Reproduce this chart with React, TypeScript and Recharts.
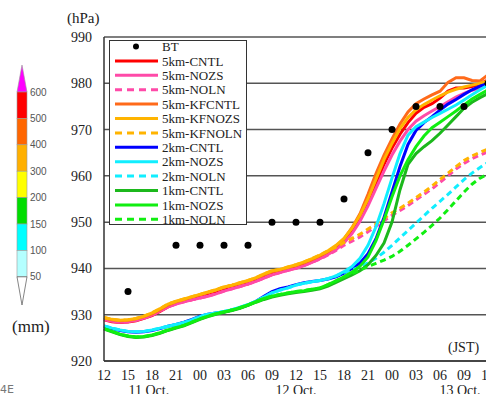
import { LineChart, Line, XAxis, YAxis, CartesianGrid, Legend } from 'recharts';

// hours after 11 Oct. 12 JST
const HOURS = [
  0, 1, 2, 3, 4, 5, 6, 7, 8, 9, 10, 11, 12, 13, 14, 15, 16, 17, 18, 19, 20, 21, 22, 23, 24,
  25, 26, 27, 28, 29, 30, 31, 32, 33, 34, 35, 36, 37, 38, 39, 40, 41, 42, 43, 44, 45, 46, 47, 48,
];
const X_TICKS = [0, 3, 6, 9, 12, 15, 18, 21, 24, 27, 30, 33, 36, 39, 42, 45, 48];
const X_LABELS = ['12', '15', '18', '21', '00', '03', '06', '09', '12', '15', '18', '21', '00', '03', '06', '09', '12'];
const DATE_TICKS = [5.6, 24, 44.5];
const DATE_LABELS = ['11 Oct.', '12 Oct.', '13 Oct.'];
const Y_TICKS = [920, 930, 940, 950, 960, 970, 980, 990];

// best track
const BT_HOURS = [3, 9, 12, 15, 18, 21, 24, 27, 30, 33, 36, 39, 42, 45, 48];
const BT_VALUES = [935, 945, 945, 945, 945, 950, 950, 950, 955, 965, 970, 975, 975, 975, 980];

// central pressure (hPa)
const CNTL_5KM = [
  928.9, 928.5, 928.3, 928.4, 928.7, 929.2, 929.8, 930.7, 931.7, 932.4, 932.9, 933.3, 933.8, 934.2, 934.7,
  935.3, 935.8, 936.2, 936.7, 937.3, 938.0, 938.7, 939.2, 939.7, 940.1, 940.7, 941.4, 942.2, 943.1, 944.3,
  945.8, 947.9, 950.7, 954.2, 958.3, 962.5, 966.0, 969.0, 971.5, 973.5, 974.8, 975.6, 976.8, 978.3, 979.0,
  979.0, 979.3, 979.9, 980.7,
];
const NOZS_5KM = [
  929.0, 928.6, 928.4, 928.5, 928.8, 929.3, 929.9, 930.8, 931.7, 932.3, 932.8, 933.2, 933.6, 934.0, 934.5,
  935.1, 935.6, 936.1, 936.6, 937.2, 937.9, 938.6, 939.1, 939.6, 940.0, 940.6, 941.3, 942.1, 943.0, 944.1,
  945.5, 947.5, 950.2, 953.5, 957.3, 961.0, 964.5, 967.5, 970.0, 971.8, 973.0, 974.0, 975.0, 976.0, 977.0,
  977.8, 978.5, 979.0, 979.6,
];
const NOLN_5KM = [
  929.0, 928.6, 928.4, 928.5, 928.8, 929.3, 929.9, 930.8, 931.7, 932.3, 932.8, 933.2, 933.6, 934.0, 934.5,
  935.1, 935.6, 936.1, 936.6, 937.2, 937.9, 938.6, 939.1, 939.6, 940.0, 940.6, 941.3, 942.0, 942.9, 943.9,
  945.0, 945.9, 946.8, 947.9, 949.1, 950.3, 951.5, 952.5, 953.6, 954.8, 956.0, 957.2, 958.6, 960.0, 961.5,
  962.7, 963.7, 964.5, 965.2,
];
const KFCNTL_5KM = [
  929.3, 928.9, 928.7, 928.8, 929.1, 929.6, 930.2, 931.1, 932.1, 932.8, 933.3, 933.8, 934.3, 934.8, 935.3,
  935.9, 936.3, 936.8, 937.3, 937.9, 938.6, 939.3, 939.7, 940.2, 940.6, 941.2, 941.9, 942.7, 943.6, 944.8,
  946.4, 948.8, 951.8, 956.0, 960.5, 964.5, 968.0, 971.2, 973.8, 975.6, 976.6, 977.5, 978.3, 980.2, 981.2,
  981.2, 980.6, 980.5, 981.8,
];
const KFNOZS_5KM = [
  929.4, 929.0, 928.8, 928.9, 929.2, 929.7, 930.4, 931.3, 932.3, 932.9, 933.4, 933.9, 934.4, 934.9, 935.4,
  936.0, 936.4, 936.9, 937.4, 938.0, 938.8, 939.5, 939.8, 940.3, 940.8, 941.4, 942.1, 942.9, 943.8, 945.0,
  946.5, 948.7, 951.5, 955.0, 959.3, 963.5, 967.0, 970.2, 972.6, 974.3, 975.4, 976.4, 977.3, 978.1, 978.7,
  979.2, 979.6, 980.0, 980.4,
];
const KFNOLN_5KM = [
  929.4, 929.0, 928.8, 928.9, 929.2, 929.7, 930.4, 931.3, 932.3, 932.9, 933.4, 933.9, 934.4, 934.9, 935.4,
  936.0, 936.4, 936.9, 937.4, 938.0, 938.8, 939.5, 939.8, 940.3, 940.8, 941.4, 942.1, 942.9, 943.8, 944.6,
  945.6, 946.5, 947.4, 948.5, 949.6, 950.8, 952.0, 953.0, 954.1, 955.3, 956.5, 957.8, 959.2, 960.6, 962.0,
  963.3, 964.3, 965.1, 965.8,
];
const CNTL_2KM = [
  927.5, 927.0, 926.6, 926.3, 926.2, 926.3, 926.6, 927.0, 927.5, 927.9, 928.4, 929.0, 929.7, 930.1, 930.4,
  930.6, 931.0, 931.5, 932.1, 932.9, 934.0, 935.0, 935.6, 936.0, 936.5, 936.9, 937.2, 937.4, 937.7, 938.2,
  939.0, 940.0, 941.2, 943.2, 946.4, 951.0, 956.5, 962.0, 966.8, 969.8, 971.5, 972.8, 974.2, 975.5, 976.5,
  977.6, 978.6, 979.4, 980.0,
];
const NOZS_2KM = [
  927.6, 927.1, 926.7, 926.4, 926.3, 926.4, 926.7, 927.1, 927.5, 927.9, 928.3, 928.9, 929.6, 930.1, 930.4,
  930.7, 931.1, 931.6, 932.2, 932.9, 933.8, 934.7, 935.3, 935.8, 936.4, 936.8, 937.1, 937.4, 937.8, 938.4,
  939.3, 940.4, 942.2, 945.0, 949.0, 954.0, 959.5, 964.8, 968.8, 970.6, 971.6, 972.6, 973.5, 974.4, 975.3,
  976.4, 977.5, 978.6, 979.6,
];
const NOLN_2KM = [
  927.6, 927.1, 926.7, 926.4, 926.3, 926.4, 926.7, 927.1, 927.5, 927.9, 928.3, 928.9, 929.6, 930.1, 930.4,
  930.7, 931.1, 931.6, 932.2, 932.9, 933.8, 934.7, 935.3, 935.8, 936.4, 936.8, 937.1, 937.4, 937.8, 938.4,
  939.1, 939.7, 940.3, 941.2, 942.2, 943.5, 945.0, 946.6, 948.2, 949.8, 951.4, 953.0, 954.5, 956.0, 957.6,
  959.2, 960.6, 961.8, 962.9,
];
const CNTL_1KM = [
  926.9, 926.3, 925.7, 925.3, 925.1, 925.2, 925.5, 926.0, 926.6, 927.1, 927.6, 928.3, 929.0, 929.6, 930.1,
  930.5, 930.9, 931.4, 932.0, 932.7, 933.3, 933.8, 934.2, 934.5, 934.8, 935.0, 935.3, 935.6, 936.2, 937.0,
  937.8, 938.6, 939.5, 940.8, 942.8, 945.5, 950.0, 957.0, 962.5, 964.8, 966.3, 967.6, 969.2, 971.0, 972.8,
  974.6, 975.9, 976.9, 977.8,
];
const NOZS_1KM = [
  927.0, 926.4, 925.8, 925.4, 925.2, 925.3, 925.6, 926.1, 926.7, 927.2, 927.7, 928.4, 929.1, 929.7, 930.2,
  930.6, 931.0, 931.5, 932.1, 932.8, 933.5, 934.0, 934.4, 934.7, 935.0, 935.2, 935.5, 935.8, 936.5, 937.3,
  938.2, 939.2, 940.5, 942.5, 946.0, 950.5, 955.5, 960.0, 963.5, 966.3, 968.6, 970.4, 971.6, 972.8, 974.0,
  975.3, 976.6, 977.6, 978.6,
];
const NOLN_1KM = [
  927.0, 926.4, 925.8, 925.4, 925.2, 925.3, 925.6, 926.1, 926.7, 927.2, 927.7, 928.4, 929.1, 929.7, 930.2,
  930.6, 931.0, 931.5, 932.1, 932.8, 933.5, 934.0, 934.4, 934.7, 935.0, 935.2, 935.5, 935.8, 936.5, 937.3,
  938.2, 938.9, 939.6, 940.4, 941.1, 941.8, 942.6, 943.7, 945.0, 946.4, 947.8, 949.3, 950.9, 952.7, 954.6,
  956.5, 958.2, 959.5, 960.4,
];

// rain colour bar (mm)
const RAIN_LEVELS = ['600', '500', '400', '300', '200', '150', '100', '50'];
const RAIN_COLORS = ['#ff0000', '#ff6600', '#ffb000', '#ffff00', '#00dd00', '#00ffff', '#b4ffff'];

const SERIES = [
  { key: 'cntl5', name: '5km-CNTL', color: '#ff0000', dashed: false },
  { key: 'nozs5', name: '5km-NOZS', color: '#ff4aa8', dashed: false },
  { key: 'noln5', name: '5km-NOLN', color: '#ff4aa8', dashed: true },
  { key: 'kfcntl5', name: '5km-KFCNTL', color: '#ff6a1a', dashed: false },
  { key: 'kfnozs5', name: '5km-KFNOZS', color: '#ffb400', dashed: false },
  { key: 'kfnoln5', name: '5km-KFNOLN', color: '#ffb400', dashed: true },
  { key: 'cntl2', name: '2km-CNTL', color: '#0000ff', dashed: false },
  { key: 'nozs2', name: '2km-NOZS', color: '#11eeff', dashed: false },
  { key: 'noln2', name: '2km-NOLN', color: '#11eeff', dashed: true },
  { key: 'cntl1', name: '1km-CNTL', color: '#1cb81c', dashed: false },
  { key: 'nozs1', name: '1km-NOZS', color: '#11ee11', dashed: false },
  { key: 'noln1', name: '1km-NOLN', color: '#11ee11', dashed: true },
];

const data = HOURS.map((h, i) => {
  const b = BT_HOURS.indexOf(h);
  return {
    h,
    bt: b >= 0 ? BT_VALUES[b] : null,
    cntl5: CNTL_5KM[i],
    nozs5: NOZS_5KM[i],
    noln5: NOLN_5KM[i],
    kfcntl5: KFCNTL_5KM[i],
    kfnozs5: KFNOZS_5KM[i],
    kfnoln5: KFNOLN_5KM[i],
    cntl2: CNTL_2KM[i],
    nozs2: NOZS_2KM[i],
    noln2: NOLN_2KM[i],
    cntl1: CNTL_1KM[i],
    nozs1: NOZS_1KM[i],
    noln1: NOLN_1KM[i],
  };
});

const SERIF = '"Liberation Serif", "Times New Roman", serif';
const DASH = '6 4';

function LegendBox() {
  const rows = [{ name: 'BT' }, ...SERIES];
  return (
    <svg width={139} height={186} style={{ display: 'block' }}>
      <rect x={0.5} y={0.5} width={137} height={184} fill="#fff" stroke="#333" strokeWidth={1} />
      {rows.map((r: any, i) => {
        const y = 6.5 + i * 14.4;
        return (
          <g key={r.name}>
            {i === 0 ? (
              <circle cx={27} cy={y} r={3} fill="#000" />
            ) : (
              <line x1={6} x2={49} y1={y} y2={y} stroke={r.color} strokeWidth={3}
                strokeDasharray={r.dashed ? '7 5' : undefined} />
            )}
            <text x={53} y={y + 4.6} fontSize={13} fontFamily={SERIF} fill="#222">{r.name}</text>
          </g>
        );
      })}
    </svg>
  );
}

function Decorations() {
  // colour bar at the left + a few labels
  const top = 92;
  const step = 26.4;
  return (
    <svg width={486} height={394} style={{ position: 'absolute', left: 0, top: 0 }}>
      <polygon points={`17,${top} 22,65 27,${top}`} fill="#ff00ff" stroke="#999" strokeWidth={0.6} />
      {RAIN_COLORS.map((c, i) => (
        <rect key={c} x={17} y={top + i * step} width={10} height={step} fill={c} stroke="#999" strokeWidth={0.6} />
      ))}
      <polygon points={`17,${top + 7 * step} 22,305 27,${top + 7 * step}`} fill="#fff" stroke="#666" strokeWidth={0.8} />
      {RAIN_LEVELS.map((l, i) => (
        <text key={l} x={30} y={top + i * step + 3.5} fontSize={10} fontFamily='"Liberation Sans", Arial, sans-serif' fill="#555">{l}</text>
      ))}
      <text x={12} y={332} fontSize={17} fontFamily={SERIF} fill="#222">(mm)</text>
      <text x={67} y={23} fontSize={15} fontFamily={SERIF} fill="#222">(hPa)</text>
      <text x={448} y={352} fontSize={14} fontFamily={SERIF} fill="#222">(JST)</text>
      <text x={0} y={393} fontSize={11} fontFamily='"DejaVu Sans", sans-serif' fill="#777">4E</text>
    </svg>
  );
}

export default function App() {
  return (
    <div style={{ position: 'fixed', left: 0, top: 0, width: 486, height: 394, overflow: 'hidden', background: '#fff' }}>
      <Decorations />
      <div style={{ position: 'absolute', left: 0, top: 0 }}>
        <LineChart width={520} height={394} data={data} margin={{ top: 37, right: 32, bottom: 0, left: 0 }}>
          <CartesianGrid vertical={false} stroke="#555" strokeWidth={1.5} />
          <XAxis dataKey="h" type="number" domain={[0, 48]} ticks={X_TICKS}
            tickFormatter={(v) => X_LABELS[X_TICKS.indexOf(v)]}
            tickLine={false} tickSize={0} tickMargin={9} height={20}
            axisLine={{ stroke: '#333', strokeWidth: 1.5 }}
            tick={{ fontSize: 14, fontFamily: SERIF, fill: '#222' }} interval={0} />
          <XAxis xAxisId="date" dataKey="h" type="number" domain={[0, 48]} ticks={DATE_TICKS}
            tickFormatter={(v) => DATE_LABELS[DATE_TICKS.indexOf(v)]}
            tickLine={false} tickSize={0} tickMargin={4} height={13} axisLine={false}
            tick={{ fontSize: 14, fontFamily: SERIF, fill: '#222' }} interval={0} />
          <YAxis domain={[920, 990]} ticks={Y_TICKS} width={104} tickLine={false} tickSize={0} tickMargin={12}
            axisLine={{ stroke: '#333', strokeWidth: 1.5 }}
            tick={{ fontSize: 14, fontFamily: SERIF, fill: '#222' }} interval={0} />
          {SERIES.map((s) => (
            <Line key={s.key} dataKey={s.key} name={s.name} stroke={s.color} strokeWidth={3}
              strokeDasharray={s.dashed ? DASH : undefined} dot={false} activeDot={false}
              type="linear" isAnimationActive={false} />
          ))}
          <Line dataKey="bt" name="BT" stroke="none" dot={{ r: 3.5, fill: '#000', stroke: 'none' }}
            activeDot={false} isAnimationActive={false} />
          <Legend layout="vertical" align="center" verticalAlign="middle"
            wrapperStyle={{ left: 109, top: 40, width: 139, height: 186 }}
            content={() => <LegendBox />} />
        </LineChart>
      </div>
    </div>
  );
}
